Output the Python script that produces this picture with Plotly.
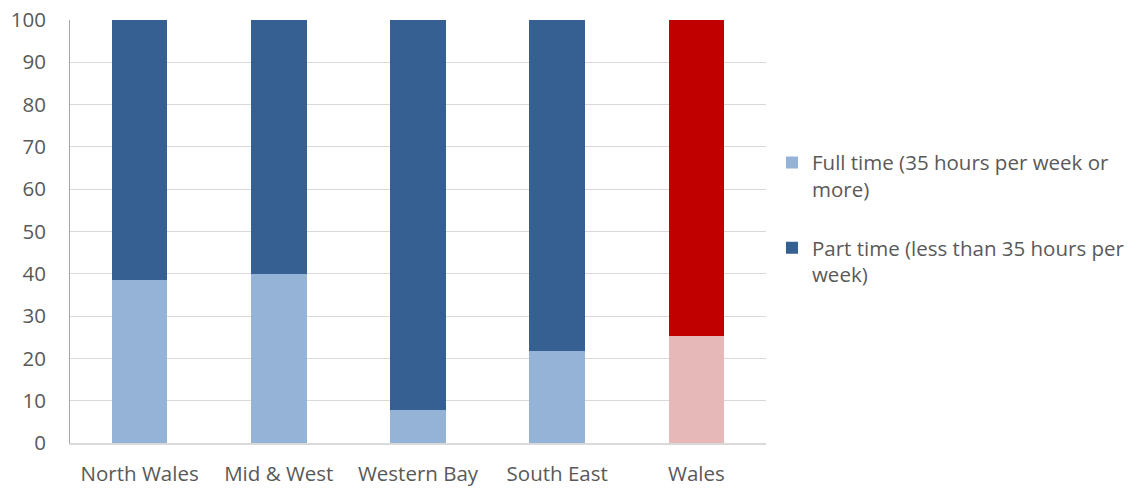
import plotly.graph_objects as go

categories = ["North Wales", "Mid & West", "Western Bay", "South East", "Wales"]
full_time = [38.5, 40.0, 7.7, 21.7, 25.3]
part_time = [61.5, 60.0, 92.3, 78.3, 74.7]
y_ticks = [0, 10, 20, 30, 40, 50, 60, 70, 80, 90, 100]

full_colors = ["#95B3D7", "#95B3D7", "#95B3D7", "#95B3D7", "#E6B9B8"]
part_colors = ["#366092", "#366092", "#366092", "#366092", "#C00000"]

font_family = "'Open Sans', 'Noto Sans', sans-serif"
txt = "#595959"

fig = go.Figure()
fig.add_trace(go.Bar(
    x=categories, y=full_time, name="Full time (35 hours per week or<br>more)",
    marker=dict(color=full_colors, line=dict(width=0)), legendgroup="a",
))
fig.add_trace(go.Bar(
    x=categories, y=part_time, name="Part time (less than 35 hours per<br>week)",
    marker=dict(color=part_colors, line=dict(width=0)), legendgroup="b",
))

fig.update_layout(
    width=1142, height=489,
    barmode="stack", bargap=0.6,
    plot_bgcolor="white", paper_bgcolor="white",
    margin=dict(l=70, r=373, t=20, b=46),
    font=dict(family=font_family, size=20.5, color=txt),
    legend=dict(
        x=1.0086, y=0.71, xanchor="left", yanchor="top",
        traceorder="grouped", tracegroupgap=29, valign="top",
        font=dict(family=font_family, size=20.5, color=txt),
        itemwidth=30,
    ),
    showlegend=True,
)
fig.update_yaxes(
    range=[0, 100], tickvals=y_ticks, showgrid=True, gridcolor="#D9D9D9", gridwidth=1,
    showline=True, linecolor="#A6A6A6", linewidth=1, ticks="", zeroline=False,
    ticklabelstandoff=19, automargin=False, ticklabeloverflow="allow",
)
fig.update_xaxes(
    showline=True, linecolor="#D9D9D9", linewidth=2, ticks="", ticklabelstandoff=11,
    automargin=False, ticklabeloverflow="allow",
)

fig.write_html("out.html", config={"displayModeBar": False},
               post_script="document.body.style.margin='0';")
